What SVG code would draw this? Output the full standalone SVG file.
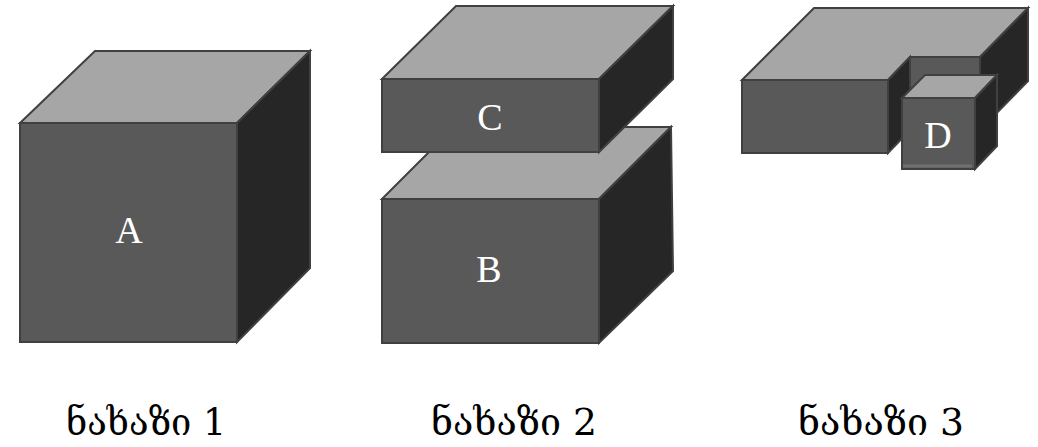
<svg xmlns="http://www.w3.org/2000/svg" width="1038" height="447" viewBox="0 0 1038 447">
<style>
.front{fill:#595959;stroke:#404040;stroke-width:2;stroke-linejoin:miter}
.top{fill:#a6a6a6;stroke:#404040;stroke-width:2}
.side{fill:#262626;stroke:#404040;stroke-width:2}
.lbl{font-family:"Liberation Serif","DejaVu Serif",serif;font-size:38px;fill:#ffffff;text-anchor:middle}
.cap{font-family:"DejaVu Serif","DejaVu Sans","Noto Sans",serif;font-size:38px;fill:#000000;text-anchor:middle}
</style>
<rect width="1038" height="447" fill="#ffffff"/>
<g id="cubeA">
<polygon class="top" points="20,123 95,51 310,51 237,123"/>
<polygon class="side" points="237,123 310,51 310,268 237,342"/>
<rect class="front" x="20" y="123" width="217" height="219"/>
<text class="lbl" x="129" y="243">A</text>
</g>
<g id="boxB">
<polygon class="top" points="382,199 454,127 671,127 599,199"/>
<polygon class="side" points="599,199 671,127 673,271 599,343"/>
<rect class="front" x="382" y="199" width="217" height="144"/>
<text class="lbl" x="489" y="282">B</text>
</g>
<g id="boxC">
<polygon class="top" points="382,79 456,6 673,6 599,79"/>
<polygon class="side" points="599,79 673,6 673,79 599,152"/>
<rect class="front" x="382" y="79" width="217" height="73"/>
<text class="lbl" x="490" y="130">C</text>
</g>
<g id="boxL">
<polygon class="top" points="742,80 814,8 1028,8 980,57 910,57 888,80"/>
<rect class="front" x="910" y="57" width="70" height="73"/>
<polygon class="side" points="888,80 910,57 910,130 888,153"/>
<polygon class="side" points="980,57 1028,8 1028,81 980,130"/>
<rect class="front" x="742" y="80" width="146" height="73"/>
</g>
<g id="cubeD">
<polygon class="top" points="902,98 925,75 997,75 975,98"/>
<polygon class="side" points="975,98 997,75 997,146 975,169"/>
<rect class="front" x="902" y="98" width="73" height="71"/>
<line x1="903" y1="166" x2="972" y2="166" stroke="#707070" stroke-width="3"/>
<text class="lbl" x="938" y="148">D</text>
</g>
<g id="captions">
<text class="cap" x="146" y="435" textLength="160" lengthAdjust="spacingAndGlyphs">ნახაზი 1</text>
<text class="cap" x="514" y="435" textLength="166" lengthAdjust="spacingAndGlyphs">ნახაზი 2</text>
<text class="cap" x="881" y="435" textLength="166" lengthAdjust="spacingAndGlyphs">ნახაზი 3</text>
</g>
</svg>
